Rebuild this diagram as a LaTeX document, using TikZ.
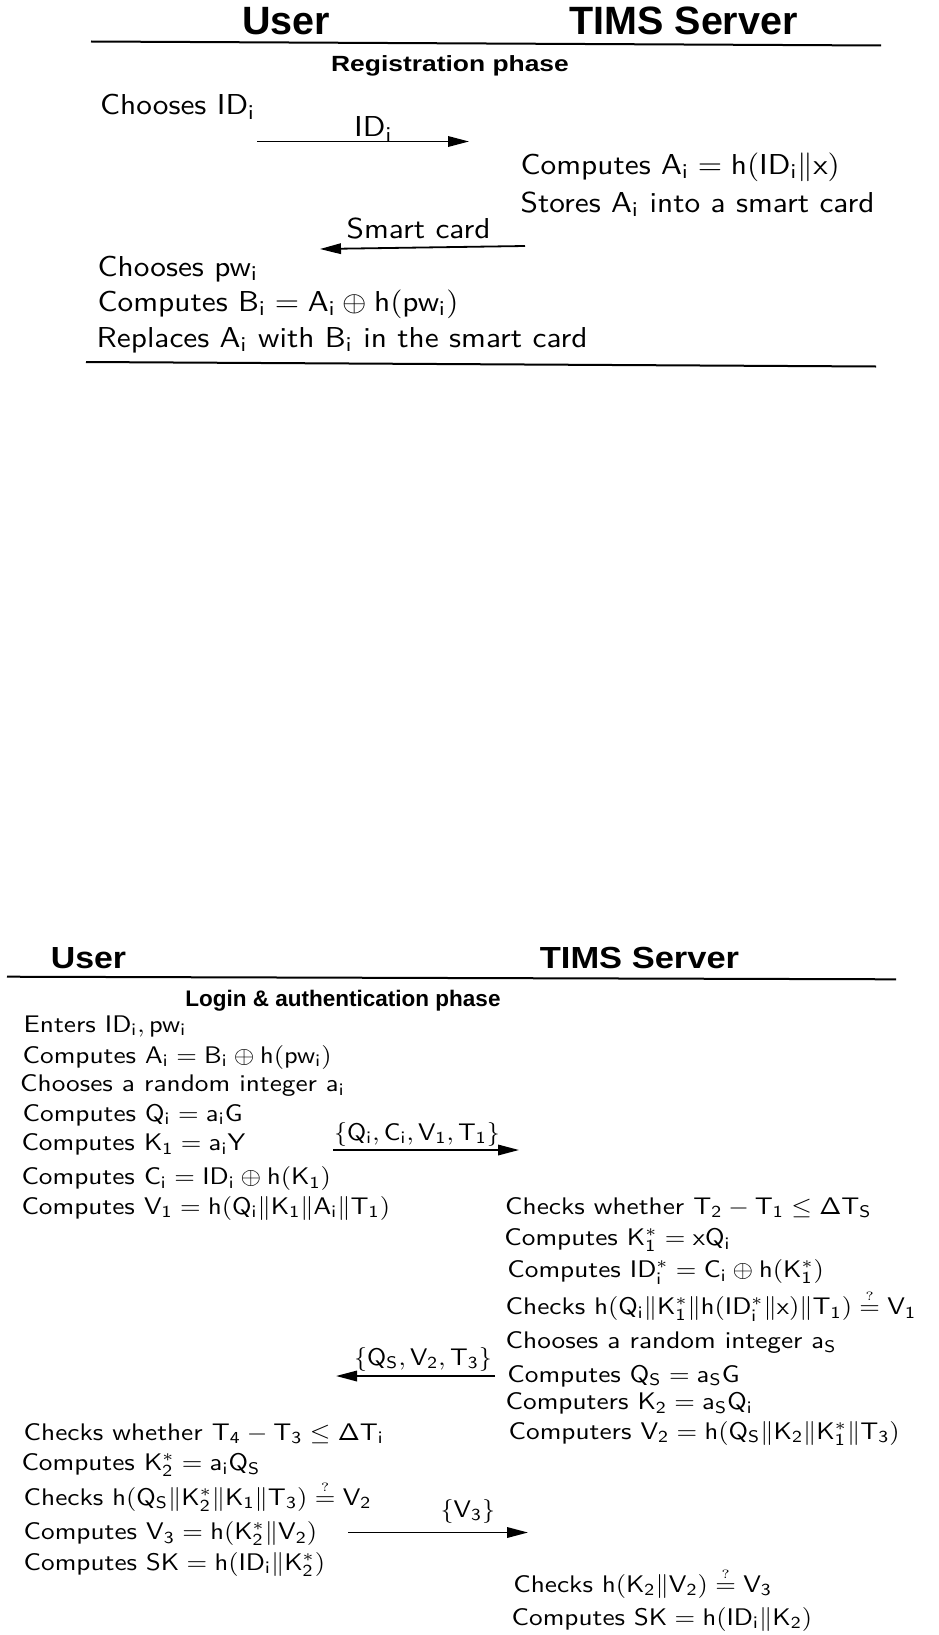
\documentclass[tikz,border=0pt]{standalone}
\usepackage[no-math]{fontspec}
\usepackage{graphicx}
\usetikzlibrary{arrows.meta}
\newfontfamily\hfont{Liberation Sans}
\newcommand\m[1]{\ensuremath{\mathsf{#1}}}
\newcommand\bm[1]{\scalebox{0.97}[1]{\m{#1}}}
\newcommand\lm[1]{\scalebox{0.955}[1]{\m{#1}}}
\newcommand\qeq{\stackrel{\scriptscriptstyle ?}{=}}
\newcommand\Tt[1]{\scalebox{3.13}[2.88]{\fontsize{10}{12}\selectfont\sffamily #1}}
\newcommand\Bt[1]{\scalebox{2.73}[2.4]{\fontsize{10}{12}\selectfont\sffamily #1}}
\tikzset{
  tt/.style={anchor=base west, inner sep=0pt},
  tc/.style={anchor=base, inner sep=0pt},
  msg/.style={line width=1.8pt, -{Triangle[length=21pt,width=10.5pt]}},
  rulel/.style={line width=2pt},
}
\begin{document}
\begin{tikzpicture}[x=1pt,y=-1pt]
\useasboundingbox (0,0) rectangle (939,1635);
\fill[white] (0,0) rectangle (939,1635);
% ---------------- Registration phase ----------------
\node[tc] (u1) at (286,35) {\hfont\bfseries\fontsize{39.5}{40}\selectfont User};
\node[tc] (s1) at (683.5,35) {\hfont\bfseries\fontsize{39.5}{40}\selectfont TIMS Server};
\coordinate (r1a) at (91,41.5); \coordinate (r1b) at (881,45.5);
\draw[rulel] (r1a) -- (r1b);
\node[tc] (ph1) at (450,71.7) {\scalebox{1.2}[1]{\hfont\bfseries\fontsize{22}{24}\selectfont Registration phase}};
\node[tt] (t1) at (100,115) {\Tt{Chooses \m{ID_i}}};
\coordinate (a1s) at (257,141.5); \coordinate (a1e) at (469,141.5);
\draw[msg] (a1s) -- (a1e);
\node[tt] (a1l) at (354,136.7) {\Tt{\m{ID_i}}};
\node[tt] (t2) at (520.5,174) {\Tt{Computes \m{A_i = h(ID_i\|x)}}};
\node[tt] (t3) at (520.5,212.5) {\Tt{Stores \m{A_i} into a smart card}};
\coordinate (a2s) at (525,246); \coordinate (a2e) at (320,249);
\draw[msg] (a2s) -- (a2e);
\node[tt] (a2l) at (346.5,238.5) {\Tt{Smart card}};
\node[tt] (t4) at (97.5,276) {\Tt{Chooses \m{pw_i}}};
\node[tt] (t5) at (97.5,311.5) {\Tt{Computes \m{B_i = A_i \oplus h(pw_i)}}};
\node[tt] (t6) at (96.5,347) {\Tt{Replaces \m{A_i} with \m{B_i} in the smart card}};
\coordinate (r2a) at (86,362); \coordinate (r2b) at (876,366.5);
\draw[rulel] (r2a) -- (r2b);
% ---------------- Login & authentication phase ----------------
\node[tc] (u2) at (88.5,968) {\scalebox{1.11}[1]{\hfont\bfseries\fontsize{30.5}{32}\selectfont User}};
\node[tc] (s2) at (639.5,968) {\scalebox{1.13}[1]{\hfont\bfseries\fontsize{30.5}{32}\selectfont TIMS Server}};
\coordinate (r3a) at (7,976.7); \coordinate (r3b) at (896,979.3);
\draw[rulel] (r3a) -- (r3b);
\node[tc] (ph2) at (343,1006.5) {\hfont\bfseries\fontsize{22.5}{24}\selectfont Login \& authentication phase};
% user, first block
\node[tt] (b1) at (23.5,1032) {\Bt{Enters \bm{ID_i, pw_i}}};
\node[tt] (b2) at (22.5,1063) {\Bt{Computes \bm{A_i = B_i \oplus h(pw_i)}}};
\node[tt] (b3) at (20,1091.5) {\Bt{Chooses a random integer \bm{a_i}}};
\node[tt] (b4) at (22.5,1121) {\Bt{Computes \bm{Q_i = a_iG}}};
\node[tt] (b5) at (21.3,1150.5) {\Bt{Computes \bm{K_1 = a_iY}}};
\node[tt] (b6) at (21.3,1184.5) {\Bt{Computes \bm{C_i = ID_i \oplus h(K_1)}}};
\node[tt] (b7) at (21.3,1214) {\Bt{Computes \bm{V_1 = h(Q_i\|K_1\|A_i\|T_1)}}};
\coordinate (m1s) at (333,1150); \coordinate (m1e) at (519,1150);
\draw[msg] (m1s) -- (m1e);
\node[tt] (m1l) at (334,1140) {\Bt{\lm{\{Q_i, C_i, V_1, T_1\}}}};
% server block
\node[tt] (c1) at (505,1214) {\Bt{Checks whether \bm{T_2 - T_1 \leq \Delta T_S}}};
\node[tt] (c2) at (504.2,1245.5) {\Bt{Computes \bm{K_1^* = xQ_i}}};
\node[tt] (c3) at (507.2,1277.5) {\Bt{Computes \bm{ID_i^* = C_i \oplus h(K_1^*)}}};
\node[tt] (c4) at (505.5,1314.5) {\Bt{Checks \bm{h(Q_i\|K_1^*\|h(ID_i^*\|x)\|T_1) \qeq V_1}}};
\node[tt] (c5) at (505.5,1348.5) {\Bt{Chooses a random integer \bm{a_S}}};
\node[tt] (c6) at (507.2,1382) {\Bt{Computes \bm{Q_S = a_SG}}};
\node[tt] (c7) at (505.5,1409.5) {\Bt{Computers \bm{K_2 = a_SQ_i}}};
\node[tt] (c8) at (508.5,1439) {\Bt{Computers \bm{V_2 = h(Q_S\|K_2\|K_1^*\|T_3)}}};
\coordinate (m2s) at (495,1376); \coordinate (m2e) at (336,1376);
\draw[msg] (m2s) -- (m2e);
\node[tt] (m2l) at (354,1365) {\Bt{\lm{\{Q_S, V_2, T_3\}}}};
% user, second block
\node[tt] (d1) at (23.5,1440) {\Bt{Checks whether \bm{T_4 - T_3 \leq \Delta T_i}}};
\node[tt] (d2) at (21.3,1470.5) {\Bt{Computes \bm{K_2^* = a_iQ_S}}};
\node[tt] (d3) at (23.5,1505) {\Bt{Checks \bm{h(Q_S\|K_2^*\|K_1\|T_3) \qeq V_2}}};
\node[tt] (d4) at (23.5,1539.5) {\Bt{Computes \bm{V_3 = h(K_2^*\|V_2)}}};
\node[tt] (d5) at (23.5,1570) {\Bt{Computes \bm{SK = h(ID_i\|K_2^*)}}};
\coordinate (m3s) at (348,1532.5); \coordinate (m3e) at (528,1532.5);
\draw[msg] (m3s) -- (m3e);
\node[tt] (m3l) at (440.5,1517) {\Bt{\lm{\{V_3\}}}};
% server, final
\node[tt] (e1) at (513.2,1592) {\Bt{Checks \bm{h(K_2\|V_2) \qeq V_3}}};
\node[tt] (e2) at (511.5,1625) {\Bt{Computes \bm{SK = h(ID_i\|K_2)}}};
\end{tikzpicture}
\end{document}
